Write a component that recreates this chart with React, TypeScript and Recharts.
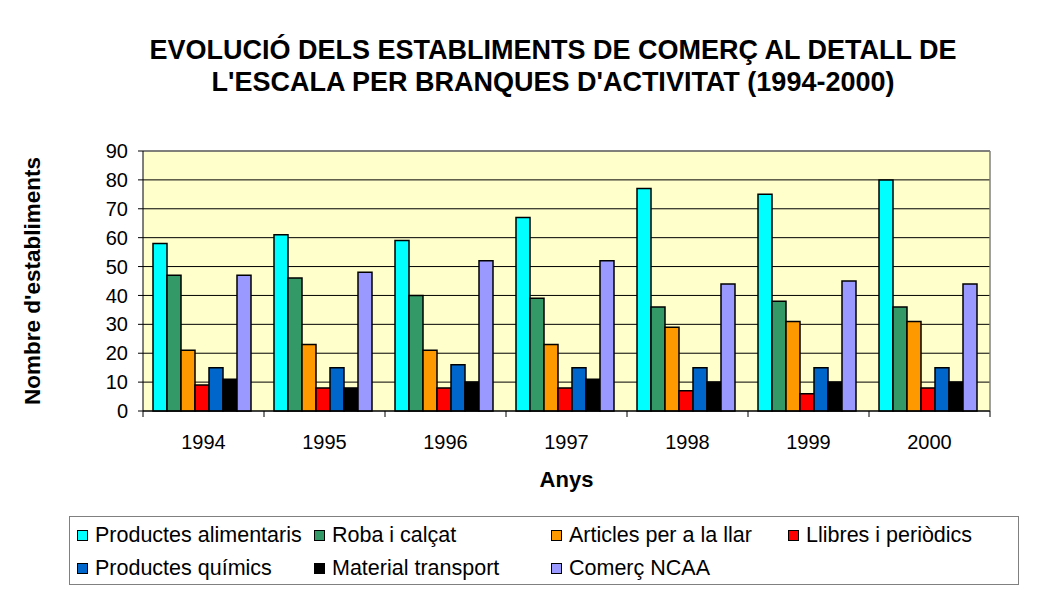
import { BarChart, Bar, XAxis, YAxis, CartesianGrid, Legend } from 'recharts';

const FONT = '"Liberation Sans", Arial, sans-serif';

const years = ['1994', '1995', '1996', '1997', '1998', '1999', '2000'];
const alimentaris = [58, 61, 59, 67, 77, 75, 80];
const roba = [47, 46, 40, 39, 36, 38, 36];
const llar = [21, 23, 21, 23, 29, 31, 31];
const llibres = [9, 8, 8, 8, 7, 6, 8];
const quimics = [15, 15, 16, 15, 15, 15, 15];
const transport = [11, 8, 10, 11, 10, 10, 10];
const ncaa = [47, 48, 52, 52, 44, 45, 44];
const yTicks = [0, 10, 20, 30, 40, 50, 60, 70, 80, 90];

const series = [
  { key: 'alimentaris', name: 'Productes alimentaris', color: '#00FFFF', values: alimentaris },
  { key: 'roba', name: 'Roba i calçat', color: '#339966', values: roba },
  { key: 'llar', name: 'Articles per a la llar', color: '#FF9900', values: llar },
  { key: 'llibres', name: 'Llibres i periòdics', color: '#FF0000', values: llibres },
  { key: 'quimics', name: 'Productes químics', color: '#0066CC', values: quimics },
  { key: 'transport', name: 'Material transport', color: '#000000', values: transport },
  { key: 'ncaa', name: 'Comerç NCAA', color: '#9999FF', values: ncaa },
];

const data = years.map((year, i) => {
  const row: Record<string, string | number> = { year };
  series.forEach((s) => {
    row[s.key] = s.values[i];
  });
  return row;
});

const TICK_SIZE = 6;
const TICK_MARGIN = 18;

// category label in the middle, tick marks on the band edges (Excel style)
function YearTick(props: any) {
  const { x, y, payload, index } = props;
  const half = payload?.offset ?? 0;
  const axisY = y - TICK_SIZE - TICK_MARGIN;
  return (
    <g>
      <line x1={x - half} x2={x - half} y1={axisY} y2={axisY + TICK_SIZE} stroke="#000" />
      {index === years.length - 1 && (
        <line x1={x + half} x2={x + half} y1={axisY} y2={axisY + TICK_SIZE} stroke="#000" />
      )}
      <text x={x} y={y} dy="0.71em" textAnchor="middle" fontSize={20} fill="#000">
        {payload.value}
      </text>
    </g>
  );
}

function LegendBox(props: any) {
  const names = series.map((s) => s.name);
  // keep the series order, recharts sorts the payload by name
  const items = [...(props.payload ?? [])].sort(
    (a: any, b: any) => names.indexOf(a.value) - names.indexOf(b.value)
  );
  return (
    <div
      style={{
        position: 'relative',
        width: 950,
        height: 69,
        border: '1px solid #808080',
        boxSizing: 'border-box',
        background: '#fff',
        fontSize: 21.5,
        color: '#000',
      }}
    >
      {items.map((item: any, i: number) => (
        <div
          key={item.value}
          style={{
            position: 'absolute',
            left: 7 + (i % 4) * 237,
            top: 7 + Math.floor(i / 4) * 33,
            height: 22,
            display: 'flex',
            alignItems: 'center',
            whiteSpace: 'nowrap',
          }}
        >
          <span
            style={{
              display: 'inline-block',
              width: 11,
              height: 11,
              background: item.color,
              border: '1.5px solid #000',
              boxSizing: 'border-box',
              marginRight: 7,
            }}
          />
          {item.value}
        </div>
      ))}
    </div>
  );
}

export default function App() {
  return (
    <div
      style={{
        position: 'relative',
        width: 1031,
        height: 587,
        marginLeft: -1,
        marginTop: -1,
        borderLeft: '1px solid #000',
        borderTop: '1px solid #000',
        overflow: 'hidden',
        background: '#fff',
        fontFamily: FONT,
      }}
    >
      <div
        style={{
          position: 'absolute',
          left: 45,
          top: 26,
          width: 1000,
          textAlign: 'center',
          fontSize: 27,
          lineHeight: '32px',
          fontWeight: 'bold',
          color: '#000',
        }}
      >
        EVOLUCIÓ DELS ESTABLIMENTS DE COMERÇ AL DETALL DE
        <br />
        L'ESCALA PER BRANQUES D'ACTIVITAT (1994-2000)
      </div>
      <BarChart
        width={1031}
        height={587}
        data={data}
        margin={{ top: 143, right: 49, bottom: 104, left: 0 }}
        barCategoryGap={10}
        barGap={0}
      >
        <CartesianGrid fill="#FFFFCC" vertical={false} stroke="#000" strokeOpacity={1} />
        <CartesianGrid
          fill="none"
          stroke="#808080"
          strokeWidth={1.5}
          horizontalCoordinatesGenerator={(p: any) => [p.offset.top]}
          verticalCoordinatesGenerator={(p: any) => [p.offset.left + p.offset.width]}
        />
        <XAxis
          dataKey="year"
          height={80}
          tickLine={false}
          tickSize={TICK_SIZE}
          tickMargin={TICK_MARGIN}
          axisLine={{ stroke: '#000' }}
          tick={<YearTick />}
          interval={0}
          label={{ value: 'Anys', position: 'insideBottom', offset: 4, fontSize: 22, fontWeight: 'bold', fill: '#000' }}
        />
        <YAxis
          width={135}
          domain={[0, 90]}
          ticks={yTicks}
          interval={0}
          tickSize={5}
          tickMargin={10}
          tick={{ fontSize: 20, fill: '#000' }}
          tickLine={{ stroke: '#000' }}
          axisLine={{ stroke: '#000' }}
          label={{
            value: "Nombre d'establiments",
            angle: -90,
            position: 'insideLeft',
            offset: 24,
            textAnchor: 'middle',
            style: { textAnchor: 'middle' },
            fontSize: 22.5,
            fontWeight: 'bold',
            fill: '#000',
          }}
        />
        <Legend
          layout="horizontal"
          verticalAlign="middle"
          align="center"
          content={<LegendBox />}
          wrapperStyle={{ left: 61, top: 508, width: 950, height: 69 }}
        />
        {series.map((s) => (
          <Bar
            key={s.key}
            dataKey={s.key}
            name={s.name}
            fill={s.color}
            stroke="#000"
            strokeWidth={1.5}
            isAnimationActive={false}
          />
        ))}
      </BarChart>
    </div>
  );
}
